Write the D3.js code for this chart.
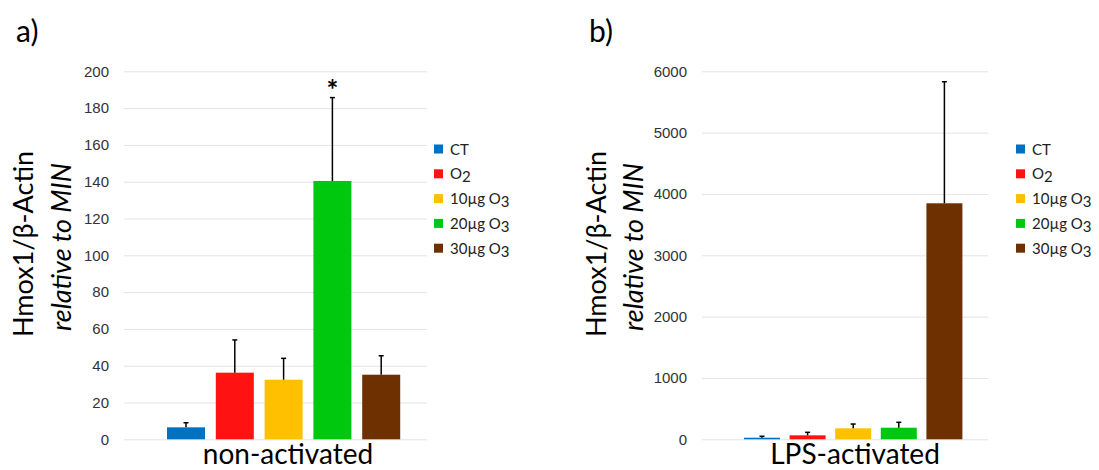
<!DOCTYPE html>
<html>
<head>
<meta charset="utf-8">
<script src="https://cdn.jsdelivr.net/npm/d3@7"></script>
<style>
  body { margin: 0; background: #fff; }
  svg { font-family: Lato, "Open Sans", sans-serif; }
  .grid line { stroke: #e3e3e3; stroke-width: 1; }
  .tick text { fill: #333; font-size: 15px; }
</style>
</head>
<body>
<div id="chart"></div>
<script>
// groups and colours
const groups = ["CT", "O2", "10µg O3", "20µg O3", "30µg O3"];
const colors = ["#0070C0", "#FF1212", "#FFC000", "#00C80F", "#6F3000"];

// panel a: non-activated
const meanA = [6.5, 36.2, 32.4, 140.4, 35.1];
const errA = [2.5, 17.8, 11.6, 45.3, 10.3];
const ticksA = [0, 20, 40, 60, 80, 100, 120, 140, 160, 180, 200];

// panel b: LPS-activated
const meanB = [26, 65, 179, 189, 3848];
const errB = [23, 49, 70, 88, 1982];
const ticksB = [0, 1000, 2000, 3000, 4000, 5000, 6000];

const width = 1099, height = 470;
const svg = d3.select("#chart").append("svg")
  .attr("width", width)
  .attr("height", height);

function drawPanel(opts) {
  const { letter, letterX, left, right, tickX, meanVals, errVals, ticks, maxY,
          barStart, barWidth, barStep, xLabel, xLabelX, titleX1, titleX2, legendX, star } = opts;
  const top = 71.3, bottom = 439.3;

  const y = d3.scaleLinear().domain([0, maxY]).range([bottom, top]);
  const x = d3.scaleBand().domain(groups)
    .range([barStart, barStart + barStep * (groups.length - 1) + barWidth])
    .paddingInner((barStep - barWidth) / barStep)
    .paddingOuter(0);

  // gridlines
  svg.append("g")
    .attr("class", "grid")
    .attr("transform", `translate(${left},0)`)
    .call(d3.axisLeft(y).tickValues(ticks).tickSize(-(right - left)).tickFormat(""))
    .call((g) => g.select(".domain").remove());

  // tick labels
  svg.append("g")
    .attr("transform", `translate(${tickX},0)`)
    .call(d3.axisLeft(y).tickValues(ticks).tickSize(0).tickPadding(0).tickFormat(d3.format("d")))
    .call((g) => g.select(".domain").remove());

  // bars
  svg.append("g").selectAll("rect")
    .data(groups)
    .join("rect")
    .attr("x", (d) => x(d))
    .attr("y", (d, i) => y(meanVals[i]))
    .attr("width", x.bandwidth())
    .attr("height", (d, i) => y(0) - y(meanVals[i]))
    .attr("fill", (d, i) => colors[i]);

  // error bars (upper half only)
  const eb = svg.append("g").attr("stroke", "#000").attr("stroke-width", 1.5);
  groups.forEach((d, i) => {
    const cx = x(d) + x.bandwidth() / 2;
    const y1 = y(meanVals[i]);
    const y2 = y(meanVals[i] + errVals[i]);
    eb.append("line").attr("x1", cx).attr("x2", cx).attr("y1", y1).attr("y2", y2);
    eb.append("line").attr("x1", cx - 2.5).attr("x2", cx + 2.5).attr("y1", y2).attr("y2", y2);
  });

  if (star !== undefined) {
    const d = groups[star];
    svg.append("text")
      .attr("x", x(d) + x.bandwidth() / 2)
      .attr("y", y(meanVals[star] + errVals[star]) + 2)
      .attr("text-anchor", "middle")
      .attr("font-size", 28)
      .attr("font-weight", "bold")
      .text("*");
  }

  // panel letter
  svg.append("text")
    .attr("x", letterX)
    .attr("y", 42)
    .attr("font-size", 30)
    .text(letter);

  // x label
  svg.append("text")
    .attr("x", xLabelX)
    .attr("y", 464)
    .attr("text-anchor", "middle")
    .attr("font-size", 28)
    .text(xLabel);

  // y title
  const midY = 244;
  svg.append("text")
    .attr("transform", `translate(${titleX1},${midY}) rotate(-90)`)
    .attr("text-anchor", "middle")
    .attr("font-size", 27)
    .text("Hmox1/β-Actin");
  svg.append("text")
    .attr("transform", `translate(${titleX2},${midY + 3}) rotate(-90)`)
    .attr("text-anchor", "middle")
    .attr("font-size", 27)
    .attr("font-style", "italic")
    .text("relative to MIN");

  // legend
  const legend = svg.append("g").attr("transform", `translate(${legendX},149)`);
  const rows = legend.selectAll("g")
    .data(groups)
    .join("g")
    .attr("transform", (d, i) => `translate(0,${i * 24.8})`);
  rows.append("rect")
    .attr("x", 0).attr("y", -4.5)
    .attr("width", 9).attr("height", 9)
    .attr("fill", (d, i) => colors[i]);
  rows.each(function (d) {
    const t = d3.select(this).append("text")
      .attr("x", 16).attr("y", 5.5)
      .attr("font-size", 15)
      .attr("fill", "#222");
    const m = d.match(/^(.*O)(\d)$/);
    if (m) {
      t.append("tspan").text(m[1]);
      t.append("tspan").attr("dy", 3).text(m[2]);
    } else {
      t.text(d);
    }
  });
}

drawPanel({
  letter: "a)", letterX: 16, left: 124, right: 427, tickX: 109,
  meanVals: meanA, errVals: errA, ticks: ticksA, maxY: 200,
  barStart: 167, barWidth: 38, barStep: 48.8,
  xLabel: "non-activated", xLabelX: 288, titleX1: 33, titleX2: 71,
  legendX: 434, star: 3
});

drawPanel({
  letter: "b)", letterX: 589, left: 702, right: 988, tickX: 687,
  meanVals: meanB, errVals: errB, ticks: ticksB, maxY: 6000,
  barStart: 744, barWidth: 36, barStep: 45.6,
  xLabel: "LPS-activated", xLabelX: 855, titleX1: 606, titleX2: 643,
  legendX: 1016
});
</script>
</body>
</html>
